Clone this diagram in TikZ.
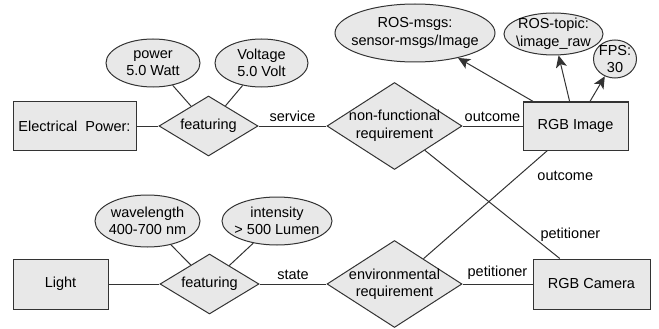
\documentclass[tikz,border=0pt]{standalone}
\usepackage{fontspec}
\setmainfont{Liberation Sans}
\usetikzlibrary{positioning}
\usetikzlibrary{shapes.geometric}
\usetikzlibrary{arrows.meta}

\begin{document}
\begin{tikzpicture}[
    x=1pt, y=-1pt,
    font=\fontsize{14.5}{17.5}\selectfont,
    squarednode/.style={rectangle, draw=black!80, fill=gray!18, line width=1pt, inner sep=0pt},
    diamondnode/.style={diamond, draw=black!80, fill=gray!18, line width=1pt, inner sep=-5pt, align=center},
    roundnode/.style={ellipse, draw=black!80, fill=gray!18, line width=1pt, inner sep=-10pt, align=center},
    rellabel/.style={inner sep=1pt},
    link/.style={draw=black!80, line width=1pt},
    arrowlink/.style={link, -{Stealth[length=12pt,width=11pt,inset=3pt]}},
  ]
  \useasboundingbox (0,0) rectangle (659,329);

  %Nodes
  \node[squarednode, minimum width=123pt, minimum height=49pt] (elec) at (74.5,126) {Electrical~~Power:};
  \node[diamondnode, minimum width=99pt, minimum height=60pt, aspect=1.65] (feat1) [right=22pt of elec] {featuring};
  \node[diamondnode, minimum width=135pt, minimum height=87pt, aspect=1.55] (nonfunc) [right=68pt of feat1] {non-functional\\requirement};
  \node[squarednode, minimum width=105pt, minimum height=48pt] (rgbimg) [right=60pt of nonfunc] {RGB Image};

  \node[squarednode, minimum width=95pt, minimum height=50pt] (light) at (60.5,284) {Light};
  \node[diamondnode, minimum width=99pt, minimum height=60pt, aspect=1.65] (feat2) [right=51pt of light] {featuring};
  \node[diamondnode, minimum width=135pt, minimum height=87pt, aspect=1.55] (envreq) [right=67pt of feat2] {environmental\\requirement};
  \node[squarednode, minimum width=117pt, minimum height=50pt] (rgbcam) [right=70pt of envreq] {RGB Camera};

  \node[roundnode, minimum width=94pt, minimum height=48pt] (power) at (153,63) {power\\5.0 Watt};
  \node[roundnode, minimum width=93pt, minimum height=48pt] (volt) at (261.5,63) {Voltage\\5.0 Volt};
  \node[roundnode, minimum width=160pt, minimum height=58pt] (msgs) at (415,33) {ROS-msgs:\\sensor-msgs/Image};
  \node[roundnode, minimum width=99pt, minimum height=42pt] (topic) at (553.5,34) {ROS-topic:\\\textbackslash image\_raw};
  \node[roundnode, minimum width=43pt, minimum height=38pt] (fps) at (615,59) {FPS:\\30};
  \node[roundnode, minimum width=105pt, minimum height=52pt] (wave) at (147.5,221) {wavelength\\400-700 nm};
  \node[roundnode, minimum width=110pt, minimum height=48pt] (inten) at (277,221) {intensity\\> 500 Lumen};

  %Lines
  \draw[link] (elec) -- (feat1);
  \draw[link] (feat1) -- node[rellabel, above=3pt] {service} (nonfunc);
  \draw[link] (nonfunc) -- node[rellabel, above=3pt] {outcome} (rgbimg);
  \draw[link] (power) -- (feat1);
  \draw[link] (volt) -- (feat1);

  \draw[link] (light) -- (feat2);
  \draw[link] (feat2) -- node[rellabel, above=3pt] {state} (envreq);
  \draw[link] (envreq) -- node[rellabel, above=3pt] {petitioner} (rgbcam);
  \draw[link] (wave) -- (feat2);
  \draw[link] (inten) -- (feat2);

  \draw[link] (nonfunc) -- node[rellabel, pos=0.78, right=9pt] {petitioner} (rgbcam);
  \draw[link] (envreq) -- node[rellabel, pos=0.77, right=17pt] {outcome} (rgbimg);

  \draw[arrowlink] (rgbimg) -- (msgs);
  \draw[arrowlink] (rgbimg) -- (topic);
  \draw[arrowlink] (rgbimg) -- (fps);
\end{tikzpicture}
\end{document}
